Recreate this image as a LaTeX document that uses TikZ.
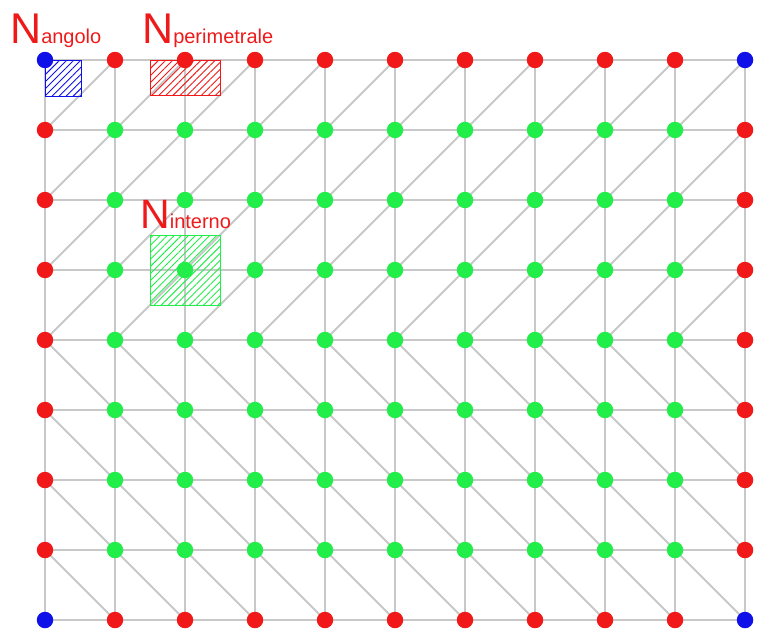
\documentclass[tikz,border=0pt]{standalone}
\usepackage{fontspec}
\setmainfont{Liberation Sans}
\usetikzlibrary{patterns.meta}
\definecolor{dotred}{HTML}{F01818}
\definecolor{dotgreen}{HTML}{22EE4A}
\definecolor{dotblue}{HTML}{1010E8}
\definecolor{gridgray}{HTML}{C8C8C8}
\definecolor{labred}{HTML}{EE1A1A}
\pgfdeclarelayer{bg}
\pgfdeclarelayer{mid}
\pgfsetlayers{bg,mid,main}
\begin{document}
\begin{tikzpicture}[x=1pt,y=-1pt,
  gridline/.style={draw=gridgray,line width=1.8pt},
  dot/.style={circle,inner sep=0pt,minimum size=16.5pt,draw=none},
  hatchbox/.style={line width=1pt,draw=#1,pattern={Lines[angle=45,distance=5pt,line width=0.9pt]},pattern color=#1},
  biglab/.style={anchor=base west,inner sep=0pt,text=labred}]
\useasboundingbox (0,0) rectangle (763,629);
% dots
\foreach \i in {0,...,10}{
  \foreach \j in {0,...,8}{
    \pgfmathtruncatemacro{\edge}{(\i==0)+(\i==10)+(\j==0)+(\j==8)}
    \ifcase\edge
      \node[dot,fill=dotgreen] (d-\i-\j) at (45+70*\i,60+70*\j) {};
    \or
      \node[dot,fill=dotred] (d-\i-\j) at (45+70*\i,60+70*\j) {};
    \else
      \node[dot,fill=dotblue] (d-\i-\j) at (45+70*\i,60+70*\j) {};
    \fi
  }
}
% grid
\begin{pgfonlayer}{bg}
\foreach \j in {0,...,8}{
  \draw[gridline] (d-0-\j.center) -- (d-10-\j.center);
}
\foreach \i in {0,...,10}{
  \draw[gridline] (d-\i-0.center) -- (d-\i-8.center);
}
\foreach \i [evaluate=\i as \ii using int(\i+1)] in {0,...,9}{
  \foreach \j [evaluate=\j as \jj using int(\j+1)] in {0,...,3}{
    \draw[gridline] (d-\i-\jj.center) -- (d-\ii-\j.center);
  }
  \foreach \j [evaluate=\j as \jj using int(\j+1)] in {4,...,7}{
    \draw[gridline] (d-\i-\j.center) -- (d-\ii-\jj.center);
  }
}
\end{pgfonlayer}
% hatched areas
\begin{pgfonlayer}{mid}
\draw[hatchbox=dotblue] (45,60) rectangle (81,96);
\draw[hatchbox=dotred] (150,60) rectangle (220,95);
\draw[hatchbox=dotgreen] (150,235) rectangle (220,305);
\end{pgfonlayer}
% labels
\node[biglab] (lab-angolo) at (10,43) {\fontsize{43}{43}\selectfont N\fontsize{20}{20}\selectfont angolo};
\node[biglab] (lab-perim) at (142,43) {\fontsize{43}{43}\selectfont N\fontsize{20}{20}\selectfont perimetrale};
\node[biglab] (lab-interno) at (140,228) {\fontsize{41}{41}\selectfont N\fontsize{20}{20}\selectfont interno};
\end{tikzpicture}
\end{document}
